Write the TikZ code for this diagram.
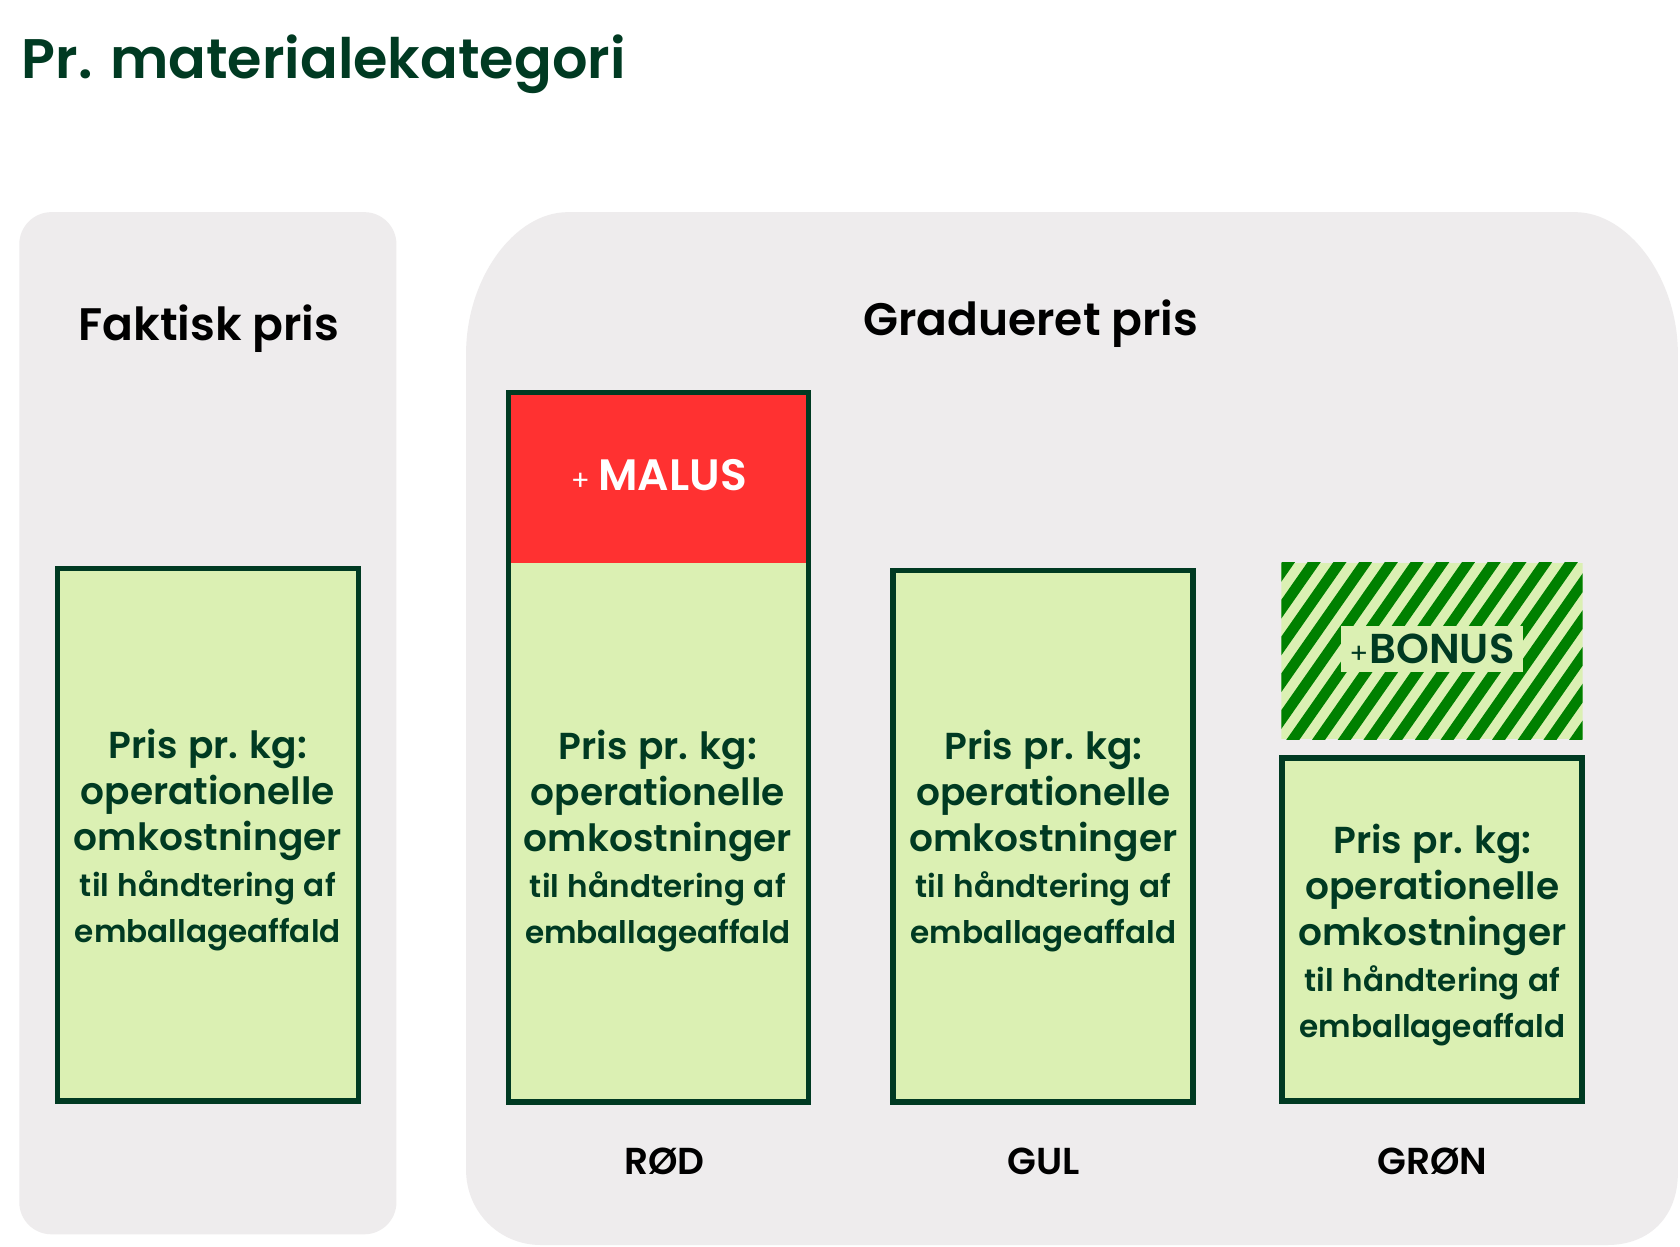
\documentclass[tikz,border=0pt]{standalone}
\usepackage{fontspec}
\IfFontExistsTF{Poppins SemiBold}
  {\setmainfont{Poppins}[BoldFont={Poppins SemiBold}]}
  {\setmainfont{Poppins}}
\definecolor{dkgreen}{RGB}{0,58,34}
\definecolor{panelgray}{RGB}{238,236,237}
\definecolor{ltgreen}{RGB}{219,240,179}
\definecolor{malusred}{RGB}{255,49,49}
\definecolor{stripegreen}{RGB}{0,128,0}
\begin{document}
\begin{tikzpicture}[x=1pt,y=-1pt,
  panel/.style={fill=panelgray},
  pbox/.style={draw=dkgreen, line width=5pt, fill=ltgreen, outer sep=0pt, inner sep=0pt},
  ptext/.style={text=dkgreen, text width=300pt, align=center, inner sep=0pt},
  head/.style={text=black, font=\fontsize{42.5}{48}\selectfont\bfseries},
  lab/.style={text=black, font=\fontsize{35}{40}\selectfont\bfseries},
]
\useasboundingbox (0,0) rectangle (1568,1163);
\fill[white] (0,0) rectangle (1568,1163);
% title
\node[anchor=base west, inner sep=0pt, text=dkgreen, font=\fontsize{52}{60}\selectfont\bfseries] (title) at (20,73) {Pr. materialekategori};
% panels
\fill[panel, rounded corners=30pt] (18,198) rectangle (370,1152);
\fill[panel] (530,198) -- (1470,198)
  .. controls (1520,198) and (1566,260) .. (1566,330)
  -- (1566,1095) .. controls (1566,1135) and (1540,1162) .. (1500,1162)
  -- (505,1162) .. controls (465,1162) and (435,1130) .. (435,1092)
  -- (435,330) .. controls (435,260) and (480,198) .. (530,198) -- cycle;
\node[head] (hfak) at (195,307) {Faktisk pris};
\node[head] (hgrad) at (962,302) {Gradueret pris};
% boxes
\newcommand\pristxt{\baselineskip=43pt{\fontsize{35}{43}\selectfont\bfseries\spaceskip=0.28em\xspaceskip=0.3em Pris pr. kg:\par operationelle\par omkostninger\par}{\fontsize{29}{43}\selectfont\bfseries\spaceskip=0.28em\xspaceskip=0.3em til håndtering af\par emballageaffald\par}}
\node[pbox, minimum width=281pt, minimum height=497pt] (b1) at (194,779) {};
\node[pbox, minimum width=280pt, minimum height=662pt] (brod) at (614.5,697.5) {};
\fill[malusred] (brod.north west) rectangle (brod.east |- 0,525);
\draw[dkgreen, line width=5pt] (brod.north west) rectangle (brod.south east);
\node[pbox, minimum width=280pt, minimum height=496pt] (bgul) at (973.5,780.5) {};
\node[pbox, minimum width=280pt, minimum height=320pt] (bgron) at (1336.5,867.5) {};
% hatched bonus
\begin{scope}
\clip (1196,525) rectangle (1477,690);
\fill[ltgreen] (1196,525) rectangle (1477,690);
\foreach \i in {0,...,22} \draw[stripegreen, line width=10pt] (1080+\i*24,700) -- ++(130,-186);
\end{scope}
\node[fill=ltgreen, minimum width=169pt, minimum height=43pt, inner sep=0pt, text=dkgreen] (bonus) at (1336.5,606) {\fontsize{26}{28}\selectfont +\kern1pt\fontsize{39}{42}\selectfont\bfseries BONUS};
\node[text=white, inner sep=0pt] (malus) at (615,443) {\fontsize{26}{28}\selectfont +\kern8pt\fontsize{41}{44}\selectfont\bfseries MALUS};
% texts
\node[ptext] (t1) at (194,784) {\pristxt};
\node[ptext] (t2) at (614,785) {\pristxt};
\node[ptext] (t3) at (974,785) {\pristxt};
\node[ptext] (t4) at (1337,873) {\pristxt};
% labels
\node[lab] (lrod) at (620,1084) {RØD};
\node[lab] (lgul) at (974,1084) {GUL};
\node[lab] (lgron) at (1337,1084) {GRØN};
\end{tikzpicture}
\end{document}
